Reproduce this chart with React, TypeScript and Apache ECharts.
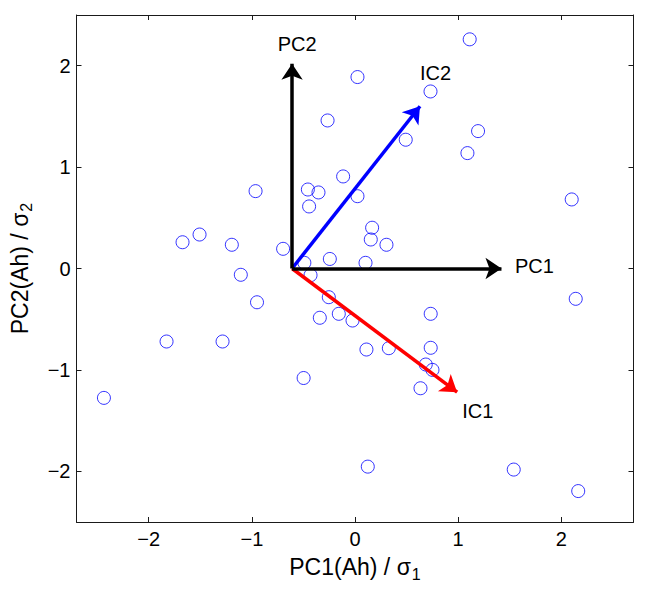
import React, { useEffect, useRef } from "react";
import * as echarts from "echarts";

// Scatter points (PC1/σ1, PC2/σ2)
const pointsX = [
  1.112, 0.024, 0.732, -0.266, 1.193, 0.492, 1.09, -0.115, -0.964, -0.457,
  -0.354, 0.024, -0.445, 2.101, 0.166, 0.153, 0.305, -1.672, -1.507, -1.194,
  -0.697, -0.244, -0.491, 0.102, -1.107, -0.431, 2.14, -0.254, -0.95, -0.341,
  -0.157, -0.024, 0.734, -1.827, -1.284, 0.111, 0.328, 0.734, 0.686, 0.751,
  -0.498, 0.635, -2.434, 0.124, 1.539, 2.164,
];
const pointsY = [
  2.26, 1.888, 1.746, 1.46, 1.355, 1.27, 1.138, 0.908, 0.763, 0.779,
  0.75, 0.713, 0.612, 0.681, 0.402, 0.286, 0.234, 0.259, 0.335, 0.234,
  0.194, 0.094, 0.056, 0.056, -0.062, -0.066, -0.299, -0.283, -0.333, -0.486,
  -0.447, -0.513, -0.447, -0.72, -0.72, -0.799, -0.786, -0.782, -0.947, -1.0,
  -1.08, -1.181, -1.276, -1.954, -1.983, -2.195,
];

// Arrows (from a common origin)
const originX = -0.61;
const originY = 0;
const arrowNames = ["IC1", "IC2", "PC1", "PC2"];
const arrowEndX = [0.99, 0.63, 1.42, -0.61];
const arrowEndY = [-1.22, 1.6, 0, 2.02];
const arrowColors = ["#ff0000", "#0000ff", "#000000", "#000000"];
const labelX = [1.19, 0.78, 1.74, -0.56];
const labelY = [-1.41, 1.93, 0.02, 2.21];

const xTicks = [-2, -1, 0, 1, 2];
const yTicks = [-2, -1, 0, 1, 2];
const xMin = -2.7;
const xMax = 2.7;
const yMin = -2.5;
const yMax = 2.5;

const FONT = "'Liberation Sans', Arial, Helvetica, sans-serif";
const AXIS_COLOR = "#1a1a1a";

const fmt = (v: number) => String(v).replace("-", "\u2212");

export default function App() {
  const ref = useRef<HTMLDivElement>(null);

  useEffect(() => {
    document.body.style.margin = "0";
    if (!ref.current) return;
    const chart = echarts.init(ref.current, undefined, { renderer: "svg" });

    const baseX = {
      type: "value" as const,
      min: xMin,
      max: xMax,
      splitLine: { show: false },
      axisLine: { show: true, onZero: false, lineStyle: { color: AXIS_COLOR, width: 1 } },
      axisTick: {
        show: true,
        inside: true,
        length: 5,
        customValues: xTicks,
        lineStyle: { color: AXIS_COLOR, width: 1 },
      },
    };
    const baseY = {
      type: "value" as const,
      min: yMin,
      max: yMax,
      splitLine: { show: false },
      axisLine: { show: true, onZero: false, lineStyle: { color: AXIS_COLOR, width: 1 } },
      axisTick: {
        show: true,
        inside: true,
        length: 5,
        customValues: yTicks,
        lineStyle: { color: AXIS_COLOR, width: 1 },
      },
    };

    const option = {
      animation: false,
      backgroundColor: "#ffffff",
      textStyle: { fontFamily: FONT },
      grid: { left: 76.5, right: 20.5, top: 15, bottom: 69, containLabel: false },
      xAxis: [
        {
          ...baseX,
          position: "bottom",
          axisLabel: {
            show: true,
            customValues: xTicks,
            formatter: fmt,
            fontSize: 20,
            color: "#000",
            fontFamily: FONT,
            margin: 7,
          },
          name: "{a|PC1(Ah) / σ}{s|1}",
          nameLocation: "middle",
          nameGap: 30,
          nameTextStyle: {
            fontFamily: FONT,
            color: "#000",
            rich: {
              a: { fontSize: 23, fontFamily: FONT, color: "#000" },
              s: { fontSize: 16, fontFamily: FONT, color: "#000", padding: [14, 0, 0, 1] },
            },
          },
        },
        {
          ...baseX,
          position: "top",
          axisLabel: { show: false },
        },
      ],
      yAxis: [
        {
          ...baseY,
          position: "left",
          axisLabel: {
            show: true,
            customValues: yTicks,
            formatter: fmt,
            fontSize: 20,
            color: "#000",
            fontFamily: FONT,
            margin: 6,
          },
          name: "{a|PC2(Ah) / σ}{s|2}",
          nameLocation: "middle",
          nameGap: 42,
          nameRotate: 90,
          nameTextStyle: {
            fontFamily: FONT,
            color: "#000",
            rich: {
              a: { fontSize: 23, fontFamily: FONT, color: "#000" },
              s: { fontSize: 16, fontFamily: FONT, color: "#000", padding: [14, 0, 0, 1] },
            },
          },
        },
        {
          ...baseY,
          position: "right",
          axisLabel: { show: false },
        },
      ],
      series: [
        {
          type: "scatter",
          xAxisIndex: 0,
          yAxisIndex: 0,
          symbol: "circle",
          symbolSize: 13,
          itemStyle: { color: "rgba(0,0,0,0)", borderColor: "#0000ff", borderWidth: 1 },
          data: pointsX.map((x, i) => [x, pointsY[i]]),
          z: 2,
        },
        {
          type: "lines",
          coordinateSystem: "cartesian2d",
          xAxisIndex: 0,
          yAxisIndex: 0,
          symbol: ["none", "arrow"],
          symbolSize: [11, 16],
          lineStyle: { width: 3.5, opacity: 1, curveness: 0 },
          data: arrowNames.map((n, i) => ({
            name: n,
            coords: [
              [originX, originY],
              [arrowEndX[i], arrowEndY[i]],
            ],
            lineStyle: { color: arrowColors[i] },
            itemStyle: { color: arrowColors[i] },
          })),
          z: 3,
        },
        {
          type: "scatter",
          xAxisIndex: 0,
          yAxisIndex: 0,
          symbol: "circle",
          symbolSize: 1,
          itemStyle: { color: "#000", opacity: 0 },
          label: {
            show: true,
            position: "inside",
            formatter: "{b}",
            fontSize: 20,
            color: "#000000",
            opacity: 1,
            textBorderWidth: 0,
            fontFamily: FONT,
          },
          data: arrowNames.map((n, i) => ({ name: n, value: [labelX[i], labelY[i]] })),
          z: 4,
        },
      ],
    };

    chart.setOption(option as any);
    return () => chart.dispose();
  }, []);

  return <div ref={ref} style={{ width: 654, height: 591 }} />;
}
